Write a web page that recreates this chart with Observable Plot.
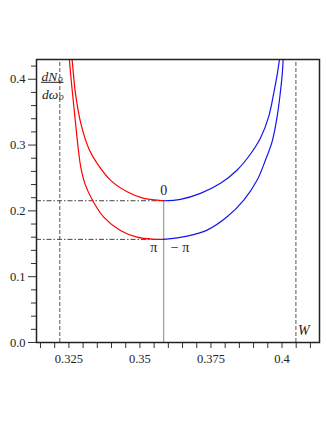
<!DOCTYPE html>
<html><head><meta charset="utf-8">
<script src="https://cdn.jsdelivr.net/npm/d3@7"></script>
<script src="https://cdn.jsdelivr.net/npm/@observablehq/plot@0.6"></script>
<style>html,body{margin:0;padding:0;background:#fff;}</style>
</head><body><div id="chart"></div>
<script>
// Upper curve (minimum at phase 0)
const upperLeftX  = [0.32613, 0.32662, 0.32722, 0.32933, 0.33222, 0.33493, 0.33961, 0.34549, 0.35134, 0.35782, 0.35838];
const upperLeftY  = [0.430, 0.407, 0.3813, 0.3306, 0.2925, 0.2722, 0.2468, 0.2291, 0.2190, 0.2156, 0.2154];
const upperRightX = [0.35838, 0.36426, 0.37130, 0.37835, 0.38423, 0.38891, 0.39243, 0.39535, 0.39722, 0.39831, 0.39912];
const upperRightY = [0.2154, 0.2175, 0.2266, 0.2418, 0.2621, 0.2864, 0.3107, 0.3437, 0.3817, 0.407, 0.430];
// Lower curve (minimum at phase π / −π)
const lowerLeftX  = [0.32518, 0.32563, 0.32620, 0.32739, 0.32842, 0.32915, 0.33063, 0.33345, 0.33725, 0.34313, 0.34901, 0.35486, 0.35838];
const lowerLeftY  = [0.430, 0.407, 0.3817, 0.331, 0.2899, 0.2671, 0.2414, 0.2149, 0.1906, 0.1703, 0.1601, 0.1569, 0.1567];
const lowerRightX = [0.35838, 0.36662, 0.37366, 0.38070, 0.38655, 0.39127, 0.39419, 0.39655, 0.39831, 0.39947, 0.40007, 0.40042];
const lowerRightY = [0.1567, 0.1617, 0.1708, 0.1910, 0.2164, 0.2468, 0.2773, 0.3057, 0.3437, 0.3817, 0.407, 0.430];

const minX = 0.35838;                // frequency of the minima
const minLevels = [0.2154, 0.1567];  // minimum densities
const bandEdges = [0.3218, 0.4049];  // dashed band limits (second is W)

const xDomain = [0.3136, 0.4132];
const yDomain = [0, 0.43];
const xMinorTicks = [0.315,0.32,0.325,0.33,0.335,0.34,0.345,0.35,0.355,0.36,0.365,0.37,0.375,0.38,0.385,0.39,0.395,0.40,0.405,0.41];
const xLabelTicks = [0.325, 0.35, 0.375, 0.4];
const xTickLabels = ["0.325", "0.35", "0.375", "0.4"];
const yMinorTicks = [0.02,0.04,0.06,0.08,0.12,0.14,0.16,0.18,0.22,0.24,0.26,0.28,0.32,0.34,0.36,0.38,0.42];
const yLabelTicks = [0, 0.1, 0.2, 0.3, 0.4];
const yTickLabels = ["0.0", "0.1", "0.2", "0.3", "0.4"];

const pts = (xs, ys) => xs.map((x, i) => ({x, y: ys[i]}));
const serif = "Liberation Serif, Times New Roman, serif";

// fraction bar of the y label, placed relative to the frame's top-left corner
function fractionBar(index, scales, values, dims) {
  const g = document.createElementNS("http://www.w3.org/2000/svg", "line");
  g.setAttribute("x1", dims.marginLeft + 5);
  g.setAttribute("x2", dims.marginLeft + 27.5);
  g.setAttribute("y1", dims.marginTop + 23.3);
  g.setAttribute("y2", dims.marginTop + 23.3);
  g.setAttribute("stroke", "#222");
  g.setAttribute("stroke-width", "1");
  return g;
}

const chart = Plot.plot({
  width: 327, height: 423,
  marginLeft: 36, marginRight: 8, marginTop: 59, marginBottom: 81,
  x: {domain: xDomain},
  y: {domain: yDomain},
  style: {fontFamily: serif, fontSize: "12.5px", background: "#fff", color: "#222"},
  marks: [
    // axes
    Plot.axisX(xMinorTicks, {tickSize: 6, tickFormat: () => "", label: null, stroke: "#333"}),
    Plot.axisX(xLabelTicks, {tickSize: 0, tickPadding: 12, tickFormat: d => xTickLabels[xLabelTicks.indexOf(d)], label: null, fontSize: 12.5}),
    Plot.axisY(yMinorTicks, {tickSize: 5, tickFormat: () => "", label: null, stroke: "#333"}),
    Plot.axisY(yLabelTicks, {tickSize: 8, tickPadding: 3, tickFormat: d => yTickLabels[yLabelTicks.indexOf(d)], label: null, stroke: "#333", fontSize: 12.5}),
    // dashed band limits
    Plot.ruleX(bandEdges, {y1: () => yDomain[0], y2: () => yDomain[1], stroke: "#555", strokeWidth: 1, strokeDasharray: "4,2"}),
    // dash-dot level lines
    Plot.ruleY(minLevels, {x1: () => xDomain[0], x2: () => minX, stroke: "#444", strokeWidth: 1, strokeDasharray: "5,2,1.5,2"}),
    // vertical line at minimum
    Plot.ruleX([minX], {y1: () => 0, y2: () => minLevels[0], stroke: "#888", strokeWidth: 1}),
    // curves
    Plot.line(pts(upperLeftX, upperLeftY), {x: "x", y: "y", stroke: "#f00", strokeWidth: 1.2, curve: "catmull-rom"}),
    Plot.line(pts(lowerLeftX, lowerLeftY), {x: "x", y: "y", stroke: "#f00", strokeWidth: 1.2, curve: "catmull-rom"}),
    Plot.line(pts(upperRightX, upperRightY), {x: "x", y: "y", stroke: "#1515f0", strokeWidth: 1.2, curve: "catmull-rom"}),
    Plot.line(pts(lowerRightX, lowerRightY), {x: "x", y: "y", stroke: "#1515f0", strokeWidth: 1.2, curve: "catmull-rom"}),
    // annotations
    Plot.text(["0"], {x: () => minX, y: () => minLevels[0], dy: -10, fontSize: 14, fill: "#222"}),
    Plot.text(["π"], {x: () => minX, y: () => minLevels[1], dx: -10, dy: 8, fontSize: 14, fill: "#222"}),
    Plot.text(["− π"], {x: () => minX, y: () => minLevels[1], dx: 7, dy: 8, textAnchor: "start", fontSize: 14, fill: "#222"}),
    Plot.text(["W"], {x: () => bandEdges[1], y: () => 0, dx: 2, dy: -12, textAnchor: "start", fontSize: 14, fontStyle: "italic", fill: "#222"}),
    // y label dN_o / dω_o
    Plot.text(["dN"], {frameAnchor: "top-left", dx: 5, dy: 11.7, textAnchor: "start", fontSize: 13.5, fontStyle: "italic", fill: "#222"}),
    Plot.text(["o"], {frameAnchor: "top-left", dx: 21.5, dy: 15.5, textAnchor: "start", fontSize: 9.5, fontStyle: "italic", fill: "#222"}),
    fractionBar,
    Plot.text(["d\u03c9"], {frameAnchor: "top-left", dx: 5.5, dy: 30, textAnchor: "start", fontSize: 13.5, fontStyle: "italic", fill: "#222"}),
    Plot.text(["o"], {frameAnchor: "top-left", dx: 22.5, dy: 33.5, textAnchor: "start", fontSize: 9.5, fontStyle: "italic", fill: "#222"}),
    Plot.frame({stroke: "#222", strokeWidth: 1.5})
  ]
});
document.getElementById("chart").appendChild(chart);
</script>
</body></html>
